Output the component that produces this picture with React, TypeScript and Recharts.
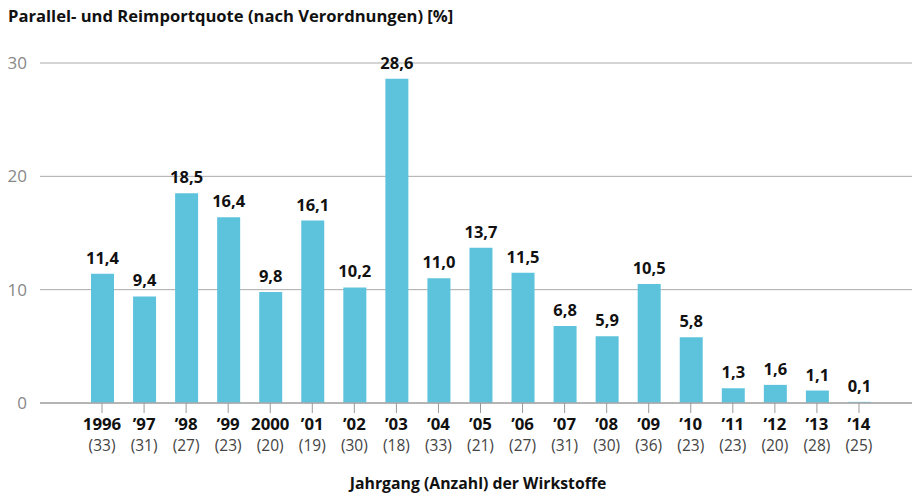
import React from 'react';
import { BarChart, Bar, XAxis, YAxis, CartesianGrid, LabelList } from 'recharts';

const years = ['1996', '’97', '’98', '’99', '2000', '’01', '’02', '’03', '’04', '’05', '’06', '’07', '’08', '’09', '’10', '’11', '’12', '’13', '’14'];
const counts = [33, 31, 27, 23, 20, 19, 30, 18, 33, 21, 27, 31, 30, 36, 23, 23, 20, 28, 25];
const quotes = [11.4, 9.4, 18.5, 16.4, 9.8, 16.1, 10.2, 28.6, 11.0, 13.7, 11.5, 6.8, 5.9, 10.5, 5.8, 1.3, 1.6, 1.1, 0.1];
const yTicks = [0, 10, 20, 30];

const data = years.map((y, i) => ({ year: y, count: counts[i], value: quotes[i] }));
const countByYear: Record<string, number> = {};
years.forEach((y, i) => { countByYear[y] = counts[i]; });

const FONT = '"Open Sans", sans-serif';

const XTick = (props: any) => {
  const { x, y, payload } = props;
  return (
    <text x={x} y={y + 15} textAnchor="middle" fontFamily={FONT} fill="#111">
      <tspan x={x} fontWeight={700} fontSize={16.8}>{payload.value}</tspan>
      <tspan x={x} dy={21} fontSize={15.5} fill="#444">({countByYear[payload.value]})</tspan>
    </text>
  );
};

export default function App() {
  return (
    <div style={{ position: 'absolute', left: 0, top: 0, width: 912, height: 497, background: '#fff' }}>
      <BarChart width={912} height={497} data={data} margin={{ top: 63, right: 0, left: 0, bottom: 64 }}>
        <CartesianGrid vertical={false} stroke="#aaa" strokeWidth={1} />
        <YAxis
          width={40}
          domain={[0, 30]}
          ticks={yTicks}
          axisLine={false}
          tickLine={false}
          tickMargin={7}
          tick={{ fill: '#888', fontSize: 17, fontFamily: FONT }}
        />
        <XAxis
          dataKey="year"
          interval={0}
          padding={{ left: 41, right: 32 }}
          axisLine={{ stroke: '#aaa', strokeWidth: 1.5 }}
          tickLine={{ stroke: '#999' }}
          tickSize={10}
          tick={<XTick />}
        />
        <Bar dataKey="value" fill="#5DC3DD" barSize={23} isAnimationActive={false}>
          <LabelList
            dataKey="value"
            position="top"
            offset={10}
            formatter={(v: any) => Number(v).toFixed(1).replace('.', ',')}
            style={{ fontFamily: FONT, fontWeight: 700, fontSize: 16.5, fill: '#111' }}
          />
        </Bar>
      </BarChart>
      <svg width={912} height={497} style={{ position: 'absolute', left: 0, top: 0, pointerEvents: 'none' }}>
        <text x={8} y={22} fontFamily={FONT} fontWeight={700} fontSize={16.6} fill="#111">
          Parallel- und Reimportquote (nach Verordnungen) [%]
        </text>
        <text x={478} y={489} textAnchor="middle" fontFamily={FONT} fontWeight={700} fontSize={15.8} fill="#111">
          Jahrgang (Anzahl) der Wirkstoffe
        </text>
      </svg>
    </div>
  );
}
